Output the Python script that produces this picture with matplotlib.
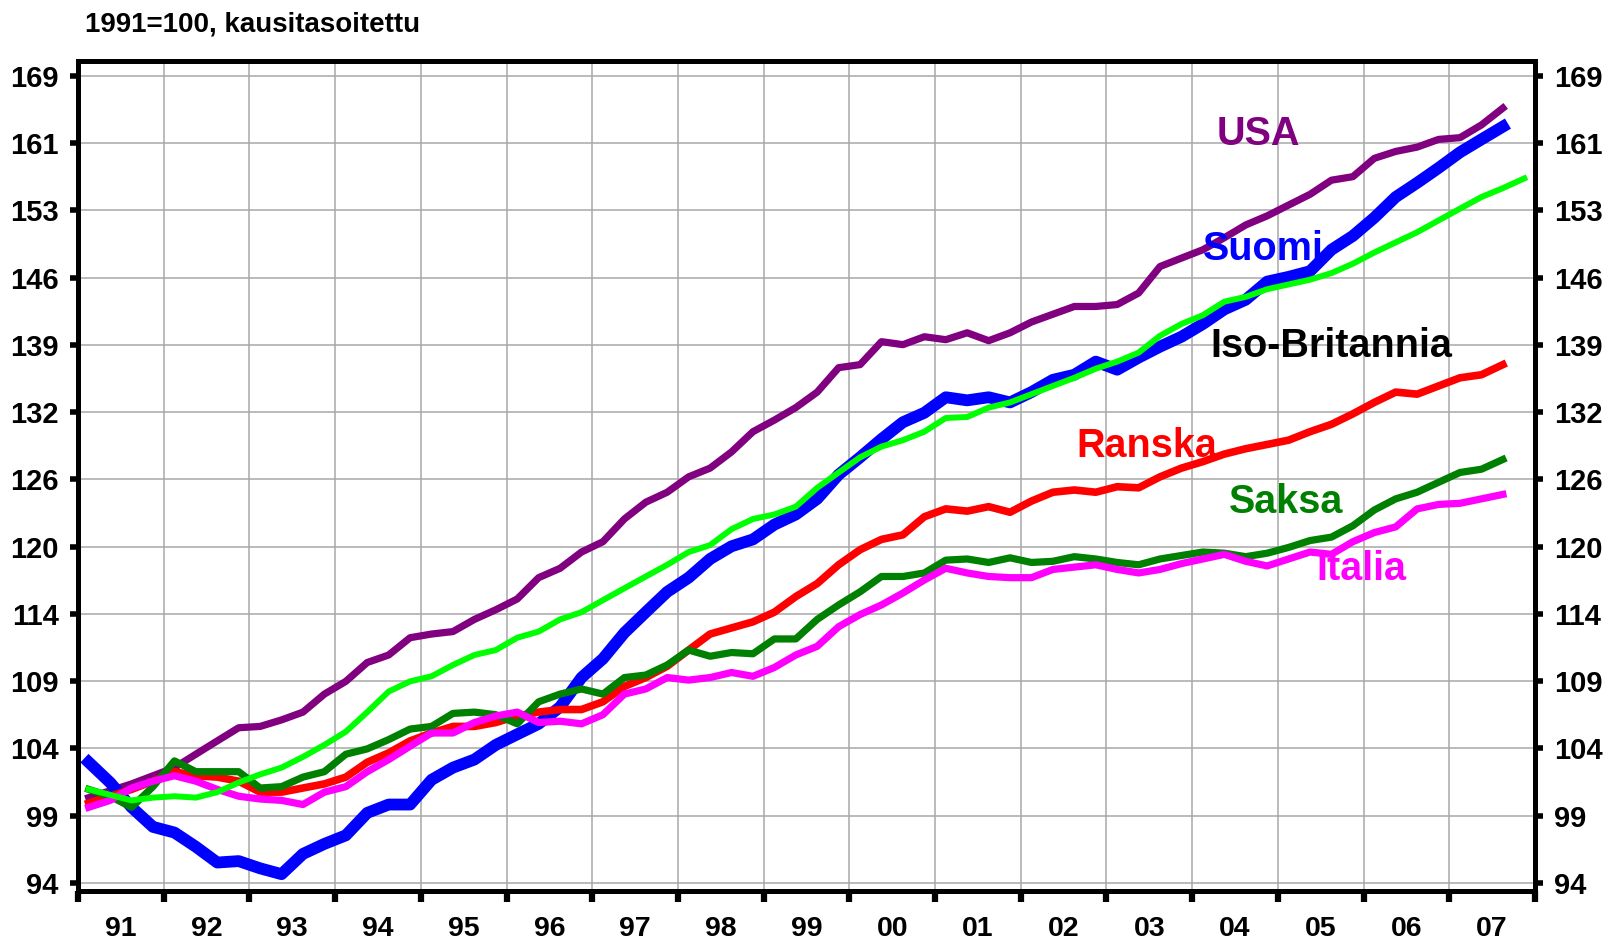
# %%
import numpy as np
import matplotlib.pyplot as plt
from matplotlib.ticker import FixedLocator, NullLocator

plt.rcParams['font.family'] = ['Liberation Sans', 'DejaVu Sans']
plt.rcParams['font.weight'] = 'bold'

# %%
# Quarterly index, 1991=100, seasonally adjusted (1991Q1 ...)
years = ["91", "92", "93", "94", "95", "96", "97", "98", "99",
         "00", "01", "02", "03", "04", "05", "06", "07"]

usa = [100.0, 100.5, 101.0, 101.6, 102.2, 103.2, 104.2, 105.2,
       105.3, 105.8, 106.4, 107.8, 108.8, 110.3, 110.9, 112.3,
       112.6, 112.8, 113.8, 114.6, 115.5, 117.3, 118.1, 119.5,
       120.4, 122.4, 123.9, 124.8, 126.2, 127.0, 128.5, 130.4,
       131.5, 132.7, 134.2, 136.6, 136.9, 139.2, 138.9, 139.7,
       139.4, 140.1, 139.3, 140.1, 141.2, 142.0, 142.8, 142.8,
       143.0, 144.2, 147.0, 147.9, 148.8, 150.1, 151.5, 152.5,
       153.7, 154.9, 156.5, 156.9, 159.0, 159.8, 160.3, 161.2,
       161.4, 162.9, 164.9]

suomi = [102.6, 101.1, 99.3, 97.9, 97.5, 96.5, 95.4, 95.5,
         95.0, 94.6, 96.0, 96.7, 97.3, 98.9, 99.5, 99.5,
         101.3, 102.2, 102.8, 103.9, 104.7, 105.5, 106.8, 109.1,
         110.6, 112.7, 114.4, 116.1, 117.3, 118.9, 120.0, 120.6,
         121.9, 122.8, 124.2, 126.4, 128.0, 129.7, 131.3, 132.2,
         133.7, 133.4, 133.7, 133.2, 134.2, 135.4, 135.9, 137.2,
         136.4, 137.6, 138.7, 139.7, 141.0, 142.5, 143.5, 145.4,
         145.9, 146.5, 148.8, 150.3, 152.3, 154.6, 156.2, 157.9,
         159.7, 161.2, 162.7]

iso_britannia = [100.6, 100.2, 99.8, 100.0, 100.1, 100.0, 100.4, 101.1,
                 101.7, 102.2, 103.0, 103.9, 104.9, 106.4, 108.0, 108.8,
                 109.2, 110.1, 110.9, 111.3, 112.3, 112.8, 113.8, 114.4,
                 115.4, 116.4, 117.4, 118.4, 119.5, 120.1, 121.5, 122.4,
                 122.8, 123.5, 125.2, 126.6, 128.0, 129.0, 129.6, 130.4,
                 131.7, 131.8, 132.7, 133.2, 134.0, 134.8, 135.6, 136.5,
                 137.2, 138.1, 139.8, 141.0, 141.9, 143.3, 143.8, 144.6,
                 145.1, 145.6, 146.3, 147.3, 148.5, 149.6, 150.7, 152.0,
                 153.3, 154.6, 155.6, 156.7]

ranska = [99.6, 100.1, 100.6, 101.2, 101.9, 101.6, 101.5, 101.2,
          100.4, 100.4, 100.7, 101.0, 101.5, 102.6, 103.3, 104.2,
          104.8, 105.3, 105.3, 105.6, 106.1, 106.4, 106.6, 106.6,
          107.2, 108.4, 109.1, 110.0, 111.3, 112.6, 113.1, 113.6,
          114.4, 115.7, 116.8, 118.4, 119.7, 120.6, 121.0, 122.6,
          123.3, 123.1, 123.5, 123.0, 124.0, 124.8, 125.0, 124.8,
          125.3, 125.2, 126.2, 127.0, 127.6, 128.3, 128.8, 129.2,
          129.6, 130.4, 131.1, 132.1, 133.2, 134.2, 134.0, 134.8,
          135.6, 135.9, 136.9]

saksa = [100.6, 100.1, 99.3, 100.8, 102.7, 101.9, 101.9, 101.9,
         100.7, 100.8, 101.5, 101.9, 103.2, 103.6, 104.3, 105.1,
         105.3, 106.3, 106.4, 106.2, 105.5, 107.2, 107.8, 108.2,
         107.8, 109.1, 109.3, 110.1, 111.3, 110.8, 111.1, 111.0,
         112.2, 112.2, 113.8, 115.0, 116.1, 117.4, 117.4, 117.7,
         118.8, 118.9, 118.6, 119.0, 118.6, 118.7, 119.1, 118.9,
         118.6, 118.4, 118.9, 119.2, 119.5, 119.4, 119.1, 119.4,
         119.9, 120.5, 120.8, 121.8, 123.2, 124.2, 124.8, 125.7,
         126.6, 126.9, 127.8]

italia = [99.3, 99.8, 100.7, 101.2, 101.6, 101.2, 100.6, 100.1,
          99.9, 99.8, 99.5, 100.4, 100.8, 101.9, 102.8, 103.8,
          104.8, 104.8, 105.6, 106.1, 106.4, 105.6, 105.7, 105.5,
          106.2, 107.8, 108.2, 109.1, 108.9, 109.1, 109.5, 109.2,
          109.9, 110.9, 111.6, 113.2, 114.2, 115.0, 116.0, 117.1,
          118.1, 117.7, 117.4, 117.3, 117.3, 118.0, 118.2, 118.4,
          118.0, 117.7, 118.0, 118.5, 118.9, 119.3, 118.7, 118.3,
          118.9, 119.5, 119.3, 120.4, 121.2, 121.7, 123.3, 123.7,
          123.8, 124.2, 124.6]

# %%
fig = plt.figure(figsize=(16.16, 9.42), dpi=100)
ax = fig.add_axes([78 / 1616, 1 - 891 / 942, 1457 / 1616, 830 / 942])

# drawing order matters: purple at the bottom, lime on top
ax.plot(np.arange(len(usa)), usa, color="#800080", lw=5.2,
        solid_capstyle="projecting", zorder=3)
ax.plot(np.arange(len(suomi)), suomi, color="#0000ff", lw=8.5,
        solid_capstyle="projecting", zorder=3)
ax.plot(np.arange(len(ranska)), ranska, color="#ff0000", lw=5.5,
        solid_capstyle="projecting", zorder=3)
ax.plot(np.arange(len(saksa)), saksa, color="#008000", lw=5.2,
        solid_capstyle="projecting", zorder=3)
ax.plot(np.arange(len(italia)), italia, color="#ff00ff", lw=5.2,
        solid_capstyle="projecting", zorder=3)
ax.plot(np.arange(len(iso_britannia)), iso_britannia, color="#00ff00", lw=4.3,
        solid_capstyle="projecting", zorder=3)

# %%
# Log scale with gridlines every 5 %
ax.set_yscale("log")
ax.set_xlim(-0.5, 67.5)
ax.set_ylim(94 * 1.05 ** -0.12, 94 * 1.05 ** 12.22)

yticks = 94 * 1.05 ** np.arange(13)
ax.yaxis.set_major_locator(FixedLocator(yticks))
ax.yaxis.set_minor_locator(NullLocator())
ax.set_yticklabels([f"{v:.0f}" for v in yticks])

ax.set_xticks(np.arange(0, 69, 4) - 0.5)
ax.set_xticks(np.arange(len(years)) * 4 + 1.5, minor=True)
ax.set_xticklabels(years, minor=True)

ax.tick_params(axis="x", which="major", direction="out", length=8,
               width=4.5, labelbottom=False)
ax.tick_params(axis="x", which="minor", length=0, pad=18, labelsize=20.5)
ax.tick_params(axis="y", which="major", direction="out", length=6,
               width=4, labelsize=21, pad=8, right=True, labelright=True)

ax.grid(True, which="major", color="#a8a8a8", lw=1.1, zorder=0)
for sp in ax.spines.values():
    sp.set_linewidth(3.6)
    sp.set_zorder(5)

# %%
label_kw = dict(fontsize=28.5, fontweight="bold", ha="center",
                va="baseline", zorder=6)
ax.text(54.6, 160.6, "USA", color="#800080", **label_kw)
ax.text(54.8, 147.7, "Suomi", color="#0000ff", **label_kw)
ax.text(58.0, 137.7, "Iso-Britannia", color="black", **label_kw)
ax.text(49.4, 128.0, "Ranska", color="#ff0000", **label_kw)
ax.text(55.9, 122.9, "Saksa", color="#008000", **label_kw)
ax.text(59.4, 117.1, "Italia", color="#ff00ff", **label_kw)

fig.text(85 / 1616, 1 - 32 / 942, "1991=100, kausitasoitettu",
         fontsize=20, fontweight="bold", ha="left", va="baseline")

fig.savefig("out.png", dpi=100)
